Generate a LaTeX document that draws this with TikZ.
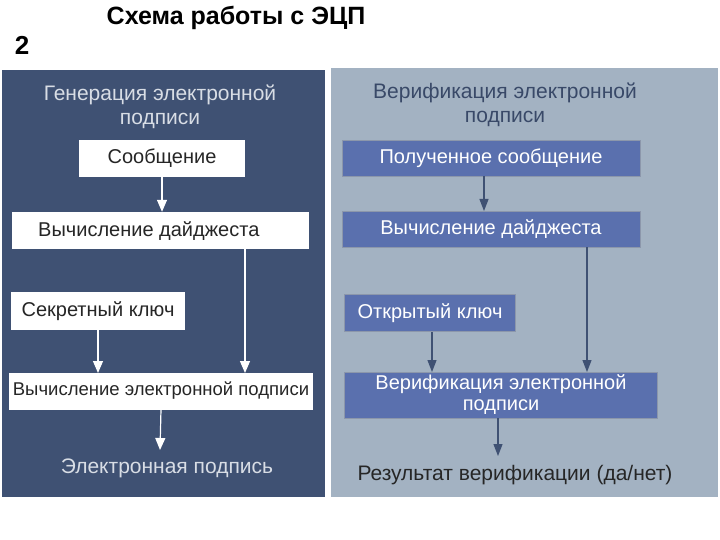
\documentclass[tikz,border=0pt]{standalone}
\usepackage{fontspec}
\setmainfont{Liberation Sans}
\usetikzlibrary{arrows.meta}
\definecolor{dark}{HTML}{3F5173}
\definecolor{light}{HTML}{A3B2C2}
\definecolor{rbox}{HTML}{5A70AE}
\definecolor{ltext}{HTML}{D8DDE5}
\tikzset{
 lbox/.style={draw=white,fill=white,text=black!85,font=\fontsize{20}{22}\selectfont,inner sep=0pt},
 rb/.style={draw=dark!60,fill=rbox,text=white,font=\fontsize{20}{22}\selectfont,inner sep=0pt,align=center},
 larr/.style={white,line width=1.2pt,-{Triangle[width=10pt,length=12pt,fill=white]}},
 rarr/.style={dark,line width=1.2pt,-{Triangle[width=9pt,length=12pt]}},
}
\begin{document}
\begin{tikzpicture}[x=1pt,y=-1pt]
\useasboundingbox (0,0) rectangle (720,540);
\fill[white] (0,0) rectangle (720,540);
\node[font=\bfseries\fontsize{26}{28}\selectfont] (num) at (22,45) {2};
\node[font=\bfseries\fontsize{25}{28}\selectfont] (title) at (236,18) {Схема работы с ЭЦП};
\fill[dark] (2,70) rectangle (325,497);
\fill[light] (331,68) rectangle (718,497);
\node[text=ltext,align=center,font=\fontsize{21}{24}\selectfont] (lh) at (160,107) {Генерация электронной\\подписи};
\node[text=dark!90!black,align=center,font=\fontsize{21}{24}\selectfont] (rh) at (505,105) {Верификация электронной\\подписи};
% left
\node[lbox,minimum width=165,minimum height=36] (m) at (162,158) {Сообщение};
\node[lbox,minimum width=296,minimum height=36] (d) at (160,230) {};
\node[font=\fontsize{20}{22}\selectfont,text=black!85,anchor=west,inner sep=0pt] (dt) at (38,231) {Вычисление дайджеста};
\node[lbox,minimum width=173,minimum height=37] (k) at (98,311) {Секретный ключ};
\node[lbox,minimum width=303,minimum height=36,font=\fontsize{18.5}{20}\selectfont] (s) at (161,391) {Вычисление электронной подписи};
\node[text=ltext,font=\fontsize{21}{23}\selectfont] (sig) at (167,468) {Электронная подпись};
\draw[larr] (m.south) -- (m.south|-d.north);
\draw[larr] (245,248) -- (245,373);
\draw[larr] (98,330) -- (98,373);
\draw[larr] (s.south) -- (160,450);
% right
\node[rb,minimum width=298,minimum height=36] (pm) at (491,158) {Полученное сообщение};
\node[rb,minimum width=298,minimum height=36] (pd) at (491,229) {Вычисление дайджеста};
\node[rb,minimum width=171,minimum height=37] (pk) at (430,313) {Открытый ключ};
\node[rb,minimum width=313,minimum height=46,font=\fontsize{20}{21}\selectfont] (pv) at (501,395) {Верификация электронной\\подписи};
\node[text=black!85,font=\fontsize{21}{23}\selectfont] (res) at (515,475) {Результат верификации (да/нет)};
\draw[rarr] (484,176) -- (484,211);
\draw[rarr] (587,247) -- (587,372);
\draw[rarr] (432,332) -- (432,372);
\draw[rarr] (498,418) -- (498,456);
\end{tikzpicture}
\end{document}
